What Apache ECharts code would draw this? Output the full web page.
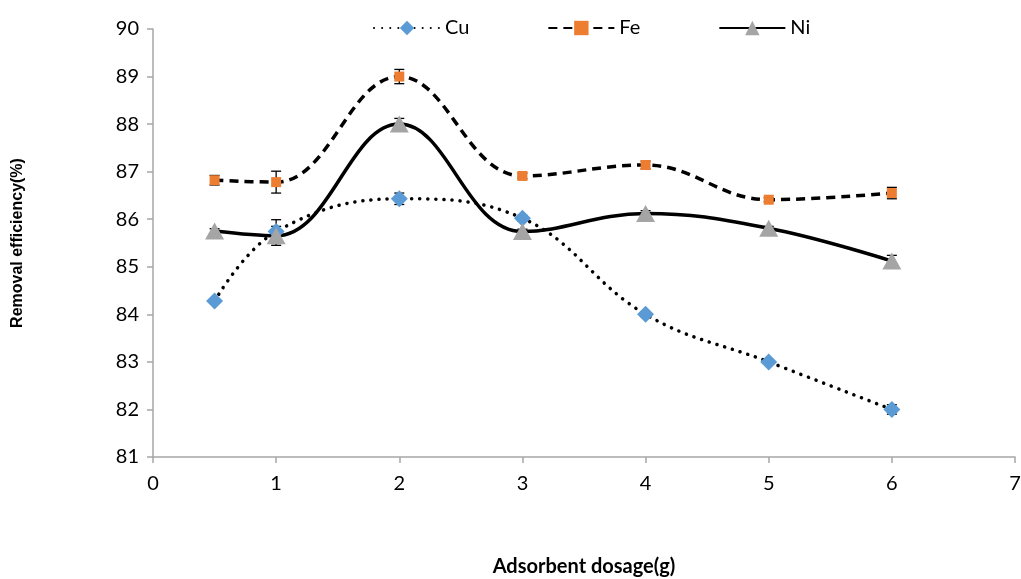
<!DOCTYPE html>
<html>
<head>
<meta charset="utf-8">
<script src="https://cdn.jsdelivr.net/npm/echarts@6/dist/echarts.min.js"></script>
<style>
  html, body { margin: 0; padding: 0; background: #fff; }
  #main { width: 1021px; height: 579px; }
</style>
</head>
<body>
<div id="main"></div>
<script>
// dosage values (g)
const dosage = [0.5, 1, 2, 3, 4, 5, 6]
// removal efficiency (%) for each metal
const cuValues = [84.28, 85.74, 86.43, 86.02, 84.0, 83.0, 82.0]
const feValues = [86.82, 86.78, 89.0, 86.91, 87.14, 86.41, 86.55]
const niValues = [85.75, 85.65, 88.0, 85.74, 86.12, 85.81, 85.12]
// error bar half widths
const cuErr = [0.05, 0.25, 0.12, 0.06, 0.05, 0.04, 0.1]
const feErr = [0.1, 0.23, 0.15, 0.06, 0.08, 0.04, 0.12]
const niErr = [0.05, 0.2, 0.12, 0.05, 0.06, 0.04, 0.12]

const font = 'Lato, "Open Sans", sans-serif'

function pairs(vals) {
  return dosage.map((d, i) => [d, vals[i]])
}

// error bar series, drawn with the axis scales
function errSeries(vals, errs) {
  return {
    type: 'custom',
    z: 2,
    silent: true,
    data: dosage.map((d, i) => [d, vals[i] - errs[i], vals[i] + errs[i]]),
    renderItem(params, api) {
      const lo = api.coord([api.value(0), api.value(1)])
      const hi = api.coord([api.value(0), api.value(2)])
      const w = 5
      const style = { stroke: '#000', lineWidth: 1.3 }
      return {
        type: 'group',
        children: [
          { type: 'line', shape: { x1: lo[0], y1: lo[1], x2: hi[0], y2: hi[1] }, style },
          { type: 'line', shape: { x1: lo[0] - w, y1: lo[1], x2: lo[0] + w, y2: lo[1] }, style },
          { type: 'line', shape: { x1: hi[0] - w, y1: hi[1], x2: hi[0] + w, y2: hi[1] }, style }
        ]
      }
    }
  }
}

const chart = echarts.init(document.getElementById('main'))
chart.setOption({
  animation: false,
  backgroundColor: '#fff',
  textStyle: { fontFamily: font },
  legend: {
    top: 13,
    left: 368,
    itemWidth: 66,
    itemHeight: 18,
    itemGap: 78,
    textStyle: { fontSize: 20, color: '#000', fontFamily: font },
    data: ['Cu', 'Fe', 'Ni']
  },
  grid: { left: 153, right: 6, top: 29, bottom: 122, outerBoundsMode: 'none', containLabel: false },
  xAxis: {
    type: 'value',
    min: 0,
    max: 7,
    interval: 1,
    name: 'Adsorbent dosage(g)',
    nameLocation: 'middle',
    nameGap: 100,
    nameTextStyle: { fontSize: 20, fontWeight: 'bold', color: '#000', fontFamily: font },
    axisLine: { lineStyle: { color: '#a6a6a6', width: 1.5 } },
    axisTick: { show: true, length: 6, lineStyle: { color: '#a6a6a6', width: 1.5 } },
    axisLabel: { fontSize: 20, color: '#000', margin: 17 },
    splitLine: { show: false }
  },
  yAxis: {
    type: 'value',
    min: 81,
    max: 90,
    interval: 1,
    name: 'Removal efficiency(%)',
    nameLocation: 'middle',
    nameGap: 127,
    nameTextStyle: { fontSize: 16, fontWeight: 'bold', color: '#000', fontFamily: '"Liberation Sans", Arial, sans-serif' },
    axisLine: { show: true, lineStyle: { color: '#a6a6a6', width: 1.5 } },
    axisTick: { show: true, length: 6, lineStyle: { color: '#a6a6a6', width: 1.5 } },
    axisLabel: { fontSize: 20, color: '#000', margin: 14 },
    splitLine: { show: false }
  },
  series: [
    {
      name: 'Cu',
      type: 'line',
      smooth: 0.4,
      data: pairs(cuValues),
      symbol: 'diamond',
      symbolSize: 17,
      itemStyle: { color: '#5b9bd5' },
      lineStyle: { color: '#000', width: 3.5, type: [0.1, 8], cap: 'round' },
      z: 3
    },
    {
      name: 'Fe',
      type: 'line',
      smooth: 0.4,
      data: pairs(feValues),
      symbol: 'rect',
      symbolSize: 10,
      itemStyle: { color: '#ed7d31' },
      lineStyle: { color: '#000', width: 3.5, type: [9, 6] },
      z: 3
    },
    {
      name: 'Ni',
      type: 'line',
      smooth: 0.4,
      data: pairs(niValues),
      symbol: 'triangle',
      symbolSize: [19, 17],
      itemStyle: { color: '#a5a5a5' },
      lineStyle: { color: '#000', width: 3.5 },
      z: 3
    },
    errSeries(cuValues, cuErr),
    errSeries(feValues, feErr),
    errSeries(niValues, niErr)
  ]
})
</script>
</body>
</html>
